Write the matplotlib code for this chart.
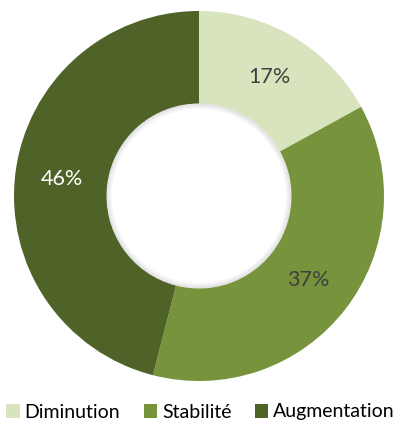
import matplotlib.pyplot as plt
from matplotlib.patches import Patch, Wedge

plt.rcParams['font.family'] = ['Lato', 'DejaVu Sans']

# Répartition des réponses
categories = ['Diminution', 'Stabilité', 'Augmentation']
valeurs = [17, 37, 46]
couleurs = ['#D7E4BD', '#77933C', '#4F6228']
couleurs_texte = ['#404040', '#404040', '#FFFFFF']

fig = plt.figure(figsize=(4.01, 4.22), dpi=100)
ax = fig.add_axes([14 / 401, 41 / 422, 370 / 401, 370 / 422])

wedges, textes, pcts = ax.pie(
    valeurs, colors=couleurs, startangle=90, counterclock=False,
    radius=1, autopct='%d%%', pctdistance=0.745,
    wedgeprops=dict(width=0.5, edgecolor='none'),
)
for t, c in zip(pcts, couleurs_texte):
    t.set_color(c)
    t.set_fontsize(15.5)

# légère ombre le long du bord du trou central
for i in range(5):
    ax.add_patch(Wedge((0, 0), 0.5 - i * 0.006, 0, 360, width=0.007,
                       facecolor='#000000', alpha=0.10 * (5 - i) / 5,
                       edgecolor='none'))

ax.set_xlim(-1, 1)
ax.set_ylim(-1, 1)
ax.set_aspect('equal')
ax.axis('off')

handles = [Patch(facecolor=c, edgecolor='none') for c in couleurs]
fig.legend(handles, categories, loc='center', bbox_to_anchor=(0.5, 10 / 422),
           ncol=3, frameon=False, fontsize=14, handlelength=0.7, handleheight=0.7,
           handletextpad=0.25, columnspacing=1.2, labelcolor='#000000')

fig.savefig('out.png', dpi=100)
